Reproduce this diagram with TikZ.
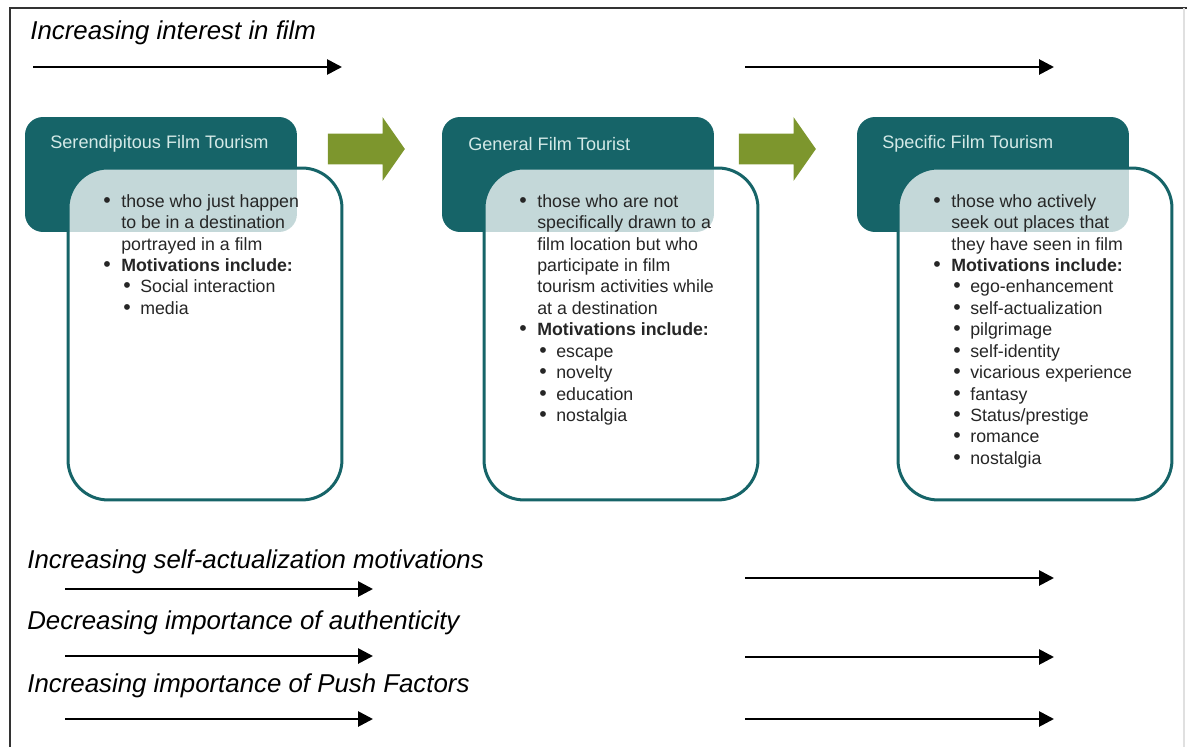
\documentclass[tikz,border=0pt]{standalone}
\usepackage{fontspec}
\setmainfont{Liberation Sans}
\usepackage{tikz}
\usetikzlibrary{positioning,shapes.arrows,arrows.meta}

\definecolor{filmteal}{RGB}{22,100,104}
\definecolor{filmolive}{RGB}{125,150,45}
\definecolor{headtext}{RGB}{212,233,231}

% bullet lines for the cards
\newcommand{\bitem}[1]{\makebox[3.6mm][l]{\scalebox{1.2}{\textbullet}}#1}
\newcommand{\bcont}[1]{\hspace*{3.6mm}#1}
\newcommand{\bsub}[1]{\hspace*{4mm}\makebox[3.4mm][l]{\scalebox{1.2}{\textbullet}}#1}

\begin{document}
\begin{tikzpicture}[x=0.02cm,y=-0.02cm,
  head/.style={fill=filmteal, rounded corners=3.6mm, minimum width=5.44cm,
    minimum height=2.3cm, anchor=north west, inner sep=0, outer sep=0},
  card/.style={draw=filmteal, line width=0.6mm, fill=white, fill opacity=0.75,
    rounded corners=8mm, minimum width=5.48cm, minimum height=6.64cm,
    anchor=north west, inner sep=0, outer sep=0},
  title/.style={text=headtext, anchor=west, inner sep=0,
    font=\fontsize{10.3}{12}\selectfont},
  list/.style={anchor=north west, align=left, inner sep=0, text=black!85,
    font=\fontsize{10.1}{12.2}\selectfont},
  push/.style={single arrow, fill=filmolive, minimum height=1.54cm,
    inner xsep=0, inner ysep=3mm, single arrow head extend=3.3mm,
    single arrow tip angle=110},
  trend/.style={line width=0.55mm, -{Triangle[length=3mm,width=3mm]}},
  label/.style={anchor=west, inner sep=0,
    font=\fontsize{14.7}{16}\selectfont\itshape}]

  \useasboundingbox (0,0) rectangle (1187,747);
  % frame
  \draw[line width=0.4mm, black!80] (1187,8) -- (10,8) -- (10,747);
  \draw[line width=0.3mm, black!12] (1184,8) -- (1184,747);

  % serendipitous
  \node[head] (ser-head) at (25,117) {};
  \node[card] (ser-card) at (68,168) {};
  \node[title] (ser-title) at ([shift={(25,27)}]ser-head.north west) {Serendipitous Film Tourism};
  \node[list] (ser-list) at ([shift={(35,26)}]ser-card.north west) {%
    \bitem{those who just happen}\\
    \bcont{to be in a destination}\\
    \bcont{portrayed in a film}\\
    \bitem{\textbf{Motivations include:}}\\
    \bsub{Social interaction}\\
    \bsub{media}};

  % general
  \node[head] (gen-head) at (442,117) {};
  \node[card] (gen-card) at (484,168) {};
  \node[title] (gen-title) at ([shift={(26,27)}]gen-head.north west) {General Film Tourist};
  \node[list] (gen-list) at ([shift={(35,26)}]gen-card.north west) {%
    \bitem{those who are not}\\
    \bcont{specifically drawn to a}\\
    \bcont{film location but who}\\
    \bcont{participate in film}\\
    \bcont{tourism activities while}\\
    \bcont{at a destination}\\
    \bitem{\textbf{Motivations include:}}\\
    \bsub{escape}\\
    \bsub{novelty}\\
    \bsub{education}\\
    \bsub{nostalgia}};

  % specific
  \node[head] (spe-head) at (857,117) {};
  \node[card] (spe-card) at (898,168) {};
  \node[title] (spe-title) at ([shift={(25,27)}]spe-head.north west) {Specific Film Tourism};
  \node[list] (spe-list) at ([shift={(35,26)}]spe-card.north west) {%
    \bitem{those who actively}\\
    \bcont{seek out places that}\\
    \bcont{they have seen in film}\\
    \bitem{\textbf{Motivations include:}}\\
    \bsub{ego-enhancement}\\
    \bsub{self-actualization}\\
    \bsub{pilgrimage}\\
    \bsub{self-identity}\\
    \bsub{vicarious experience}\\
    \bsub{fantasy}\\
    \bsub{Status/prestige}\\
    \bsub{romance}\\
    \bsub{nostalgia}};

  % block arrows between the stages
  \node[push] (push-a) at (361,149) {};
  \node[push] (push-b) at (772,149) {};

  % trends
  \node[label] (lab-film) at (30,33) {Increasing interest in film};
  \coordinate (film-a) at (33,67);  \coordinate (film-b) at (342,67);
  \coordinate (film-c) at (745,67); \coordinate (film-d) at (1054,67);
  \draw[trend] (film-a) -- (film-b);
  \draw[trend] (film-c) -- (film-d);

  \node[label] (lab-self) at (27,562) {Increasing self-actualization motivations};
  \coordinate (self-a) at (65,589);  \coordinate (self-b) at (373,589);
  \coordinate (self-c) at (745,578); \coordinate (self-d) at (1054,578);
  \draw[trend] (self-a) -- (self-b);
  \draw[trend] (self-c) -- (self-d);

  \node[label] (lab-auth) at (27,623) {Decreasing importance of authenticity};
  \coordinate (auth-a) at (65,656);  \coordinate (auth-b) at (373,656);
  \coordinate (auth-c) at (745,657); \coordinate (auth-d) at (1054,657);
  \draw[trend] (auth-a) -- (auth-b);
  \draw[trend] (auth-c) -- (auth-d);

  \node[label] (lab-push) at (27,686) {Increasing importance of Push Factors};
  \coordinate (push-c1) at (65,719);  \coordinate (push-c2) at (373,719);
  \coordinate (push-c3) at (745,719); \coordinate (push-c4) at (1054,719);
  \draw[trend] (push-c1) -- (push-c2);
  \draw[trend] (push-c3) -- (push-c4);
\end{tikzpicture}
\end{document}
